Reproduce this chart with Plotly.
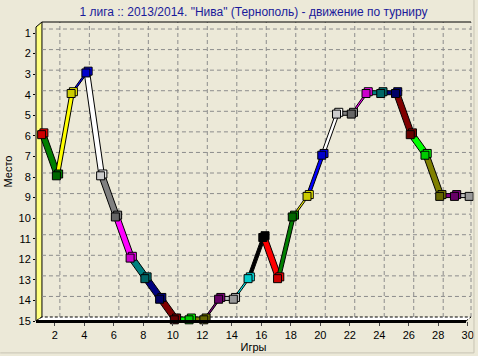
import plotly.graph_objects as go

games = list(range(1, 31))
places = [6, 8, 4, 3, 8, 10, 12, 13, 14, 15, 15, 15, 14, 14, 13,
          11, 13, 10, 9, 7, 5, 5, 4, 4, 4, 6, 7, 9, 9, 9]
palette = ["#FF0000", "#008000", "#FFFF00", "#0000FF", "#FFFFFF", "#808080",
           "#FF00FF", "#008080", "#000080", "#800000", "#00FF00", "#808000",
           "#800080", "#C0C0C0", "#00FFFF", "#000000"]
y_ticks = list(range(1, 16))
x_ticks = list(range(2, 31, 2))

title = '1 лига :: 2013/2014. "Нива" (Тернополь) - движение по турниру'
BG = "#ECE9D8"
W, H = 478, 356
ML, MR, MT, MB = 36, 4, 22, 34
PW, PH = W - ML - MR, H - MT - MB
G1_PX, G30_PX = 40.2, 470.7          # pixel of first / last game
sx = (G30_PX - G1_PX) / (games[-1] - games[0])
X0 = games[0] - (G1_PX - ML) / sx
X1 = games[-1] + (W - MR - G30_PX) / sx
Y_BOT = 15
sy = 20.64
Y_TOP = Y_BOT - PH / sy

# 3D depth offset (pixels: right, up) converted to data units
DX_PX, DY_PX = 5, 4
ddx = DX_PX / sx
ddy = DY_PX / sy


def col(i):
    return palette[i % len(palette)]


def dark(c, f=0.8):
    r, g, b = int(c[1:3], 16), int(c[3:5], 16), int(c[5:7], 16)
    return "#%02X%02X%02X" % (int(r * f), int(g * f), int(b * f))


fig = go.Figure()

# ribbons for each segment (colored by the end point colour)
for i in range(1, len(games)):
    xa, ya = games[i - 1], places[i - 1]
    xb, yb = games[i], places[i]
    xs = [xa, xb, xb + ddx, xa + ddx, xa]
    ys = [ya, yb, yb - ddy, ya - ddy, ya]
    fig.add_trace(go.Scatter(x=xs, y=ys, mode="lines", fill="toself",
                             fillcolor=col(i), line=dict(color="black", width=1),
                             hoverinfo="skip", showlegend=False))

# cube markers: back (lighter) face then front face
fig.add_trace(go.Scatter(x=[g + ddx * 0.75 for g in games], y=[p - ddy * 0.75 for p in places],
                         mode="markers", cliponaxis=False, showlegend=False,
                         marker=dict(symbol="square", size=8,
                                     color=[col(i) for i in range(len(games))],
                                     line=dict(color="black", width=1))))
fig.add_trace(go.Scatter(x=[g + ddx * 0.3 for g in games], y=[p - ddy * 0.3 for p in places],
                         mode="markers", cliponaxis=False, showlegend=False,
                         marker=dict(symbol="square", size=8,
                                     color=[dark(col(i)) for i in range(len(games))],
                                     line=dict(color="black", width=1))))


def px(xp):
    return (xp - ML) / PW


def py(yp):
    return (MT + PH - yp) / PH


shapes = []
# left yellow wall
shapes.append(dict(type="path", xref="paper", yref="paper",
                   path=f"M {px(36)} {py(27)} L {px(42)} {py(22)} L {px(42)} {py(318)} L {px(36)} {py(322)} Z",
                   fillcolor="#FFFF80", line=dict(color="black", width=1), layer="below"))
# floor
shapes.append(dict(type="path", xref="paper", yref="paper",
                   path=f"M {px(36)} {py(322)} L {px(42)} {py(318)} L {px(474)} {py(318)} L {px(469)} {py(322)} Z",
                   fillcolor="#FFFFFF", line=dict(color="black", width=1, dash="3px,2px"), layer="below"))
# back-wall grid lines (shifted by the depth)
for g in x_ticks:
    shapes.append(dict(type="line", xref="x", yref="paper", x0=g + ddx, x1=g + ddx,
                       y0=py(318), y1=py(22), layer="below",
                       line=dict(color="#8C8C8C", width=1, dash="4px,3px")))
for p in y_ticks[:-1]:
    shapes.append(dict(type="line", xref="paper", yref="y", x0=px(42), x1=px(474),
                       y0=p - ddy, y1=p - ddy, layer="below",
                       line=dict(color="#8C8C8C", width=1, dash="4px,3px")))
shapes.append(dict(type="line", xref="paper", yref="paper", x0=px(474), x1=px(474),
                   y0=py(318), y1=py(22), layer="below",
                   line=dict(color="#8C8C8C", width=1, dash="4px,3px")))
# back wall top edge
shapes.append(dict(type="line", xref="paper", yref="paper", x0=px(42), x1=px(474),
                   y0=py(22), y1=py(22), line=dict(color="black", width=1)))
# front floor edge (thick axis line)
shapes.append(dict(type="line", xref="paper", yref="paper", x0=px(36), x1=px(469),
                   y0=py(322.5), y1=py(322.5), line=dict(color="black", width=3)))
# panel bevel
shapes.append(dict(type="line", xref="paper", yref="paper", x0=px(0), x1=px(477),
                   y0=py(354), y1=py(354), line=dict(color="#C8C4B4", width=1)))
shapes.append(dict(type="line", xref="paper", yref="paper", x0=px(477), x1=px(477),
                   y0=py(0), y1=py(354), line=dict(color="#C8C4B4", width=1)))

font = dict(family="Liberation Sans, Arial, sans-serif", size=11, color="black")

fig.update_layout(
    width=W, height=H,
    margin=dict(l=ML, r=MR, t=MT, b=MB),
    paper_bgcolor=BG, plot_bgcolor=BG,
    font=font,
    shapes=shapes,
    title=dict(text=title, x=0.5, xref="paper", xanchor="center", y=1 - 12 / H, yanchor="middle",
               font=dict(family="Liberation Sans, Arial, sans-serif", size=12, color="#1A1A9A")),
    xaxis=dict(range=[X0, X1], tickvals=x_ticks, ticktext=[str(v) for v in x_ticks],
               showgrid=False, zeroline=False, showline=False,
               ticks="outside", ticklen=4, tickcolor="#444",
               title=dict(text="Игры", standoff=3, font=font), tickfont=font),
    yaxis=dict(range=[Y_BOT, Y_TOP], tickvals=y_ticks, ticktext=[str(v) for v in y_ticks],
               showgrid=False, zeroline=False, showline=False,
               ticks="outside", ticklen=2, tickcolor="black",
               title=dict(text="Место", standoff=3, font=font), tickfont=font),
)

fig.write_html("out.html")
